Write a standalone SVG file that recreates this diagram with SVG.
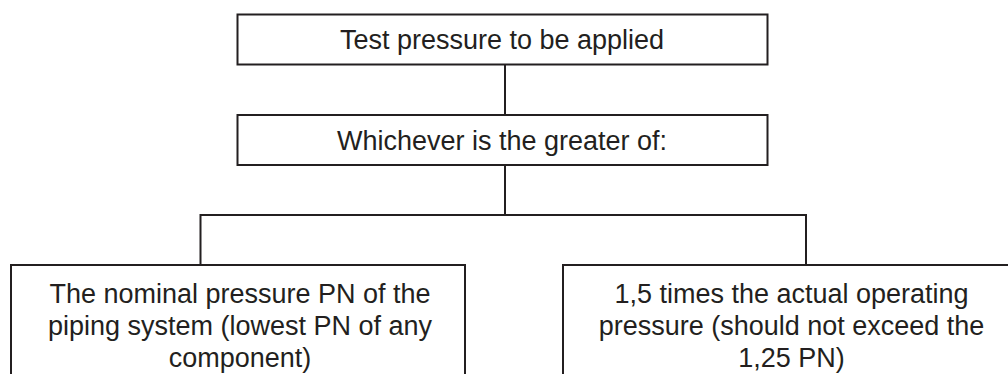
<svg xmlns="http://www.w3.org/2000/svg" width="1008" height="374" viewBox="0 0 1008 374">
<style>
.box{fill:#fff;stroke:#231f20;stroke-width:2}
.t{font-family:"Liberation Sans",Arial,sans-serif;font-size:27px;fill:#231f20;text-anchor:middle}
.c{fill:none;stroke:#231f20;stroke-width:2}
</style>
<rect width="1008" height="374" fill="#fff"/>
<g id="connectors">
<line class="c" x1="505" y1="65" x2="505" y2="115"/>
<line class="c" x1="505" y1="165" x2="505" y2="215"/>
<polyline class="c" points="200.5,265 200.5,215 806,215 806,265"/>
</g>
<g id="n1">
<rect class="box" x="237.5" y="14.5" width="530" height="50"/>
<text class="t" x="502" y="49">Test pressure to be applied</text>
</g>
<g id="n2">
<rect class="box" x="237.5" y="115" width="530" height="50"/>
<text class="t" x="502" y="150">Whichever is the greater of:</text>
</g>
<g id="n3">
<rect class="box" x="11" y="265" width="454" height="130"/>
<text class="t" x="240" y="303">The nominal pressure PN of the</text>
<text class="t" x="240" y="335">piping system (lowest PN of any</text>
<text class="t" x="240" y="367">component)</text>
</g>
<g id="n4">
<rect class="box" x="563" y="265" width="460" height="130"/>
<text class="t" x="791.5" y="303">1,5 times the actual operating</text>
<text class="t" x="791.5" y="335">pressure (should not exceed the</text>
<text class="t" x="791.5" y="367">1,25 PN)</text>
</g>
</svg>
